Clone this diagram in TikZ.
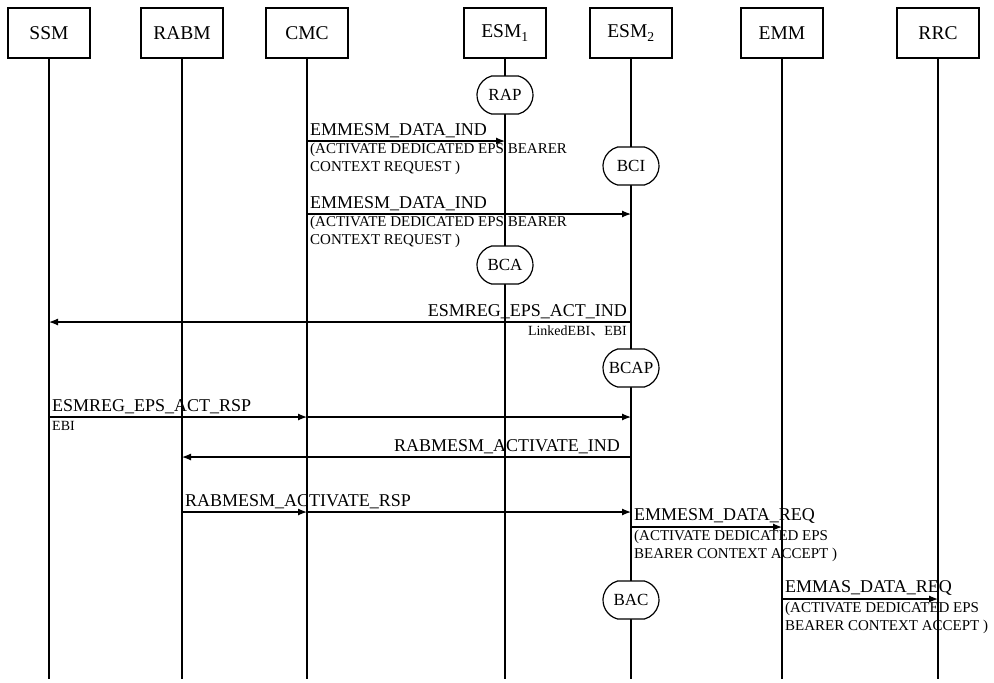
\documentclass[tikz,border=0pt]{standalone}
\usepackage{fontspec}
\setmainfont{Liberation Serif}
\newfontfamily\cjk{Noto Sans CJK SC}
\usetikzlibrary{arrows.meta,positioning,calc,shapes.misc}

\begin{document}
\begin{tikzpicture}[
  x=1pt, y=-1pt,
  ent/.style={draw, line width=1.3pt, minimum width=82pt, minimum height=50pt, font=\fontsize{19.5}{21}\selectfont},
  proc/.style={draw, line width=1.2pt, fill=white, rounded rectangle, rounded rectangle arc length=150, minimum width=60pt, minimum height=38pt, inner sep=2pt, font=\fontsize{17}{18}\selectfont},
  life/.style={line width=1.2pt},
  msg/.style={line width=1.2pt, -{Latex[length=9pt,width=7pt]}},
  lbl/.style={font=\fontsize{18}{19}\selectfont, inner sep=1pt},
  sub/.style={font=\fontsize{15}{18}\selectfont, inner sep=1pt, align=left},
  note/.style={font=\fontsize{14}{15}\selectfont, inner sep=1pt},
  >=Latex
]
\useasboundingbox (0,0) rectangle (994,683);

% entities
\node[ent] (ssm) at (49,33) {SSM};
\node[ent] (rabm) at (182,33) {RABM};
\node[ent] (cmc) at (307,33) {CMC};
\node[ent] (esma) at (505,33) {ESM\textsubscript{1}};
\node[ent] (esmb) at (631,33) {ESM\textsubscript{2}};
\node[ent] (emm) at (782,33) {EMM};
\node[ent] (rrc) at (938,33) {RRC};

% lifelines
\foreach \n in {ssm,rabm,cmc,esma,esmb,emm,rrc}
  \draw[life] (\n.south) -- (\n.south |- 0,679);

% procedures
\node[proc] (rap) at (esma |- 0,95) {RAP};
\node[proc] (bci) at (esmb |- 0,166) {BCI};
\node[proc] (bca) at (esma |- 0,265) {BCA};
\node[proc, minimum width=56pt, inner sep=0pt] (bcap) at (esmb |- 0,368) {BCAP};
\node[proc] (bac) at (esmb |- 0,600) {BAC};

% EMMESM_DATA_IND to ESM1
\draw[msg] (cmc |- 0,141) -- (esma |- 0,141);
\node[lbl, anchor=south west, xshift=2pt] (ind1) at (cmc |- 0,139) {EMMESM\_DATA\_IND};
\node[sub, anchor=north west, xshift=2pt] at (cmc |- 0,142) {(ACTIVATE DEDICATED EPS BEARER\\CONTEXT REQUEST )};

% EMMESM_DATA_IND to ESM2
\draw[msg] (cmc |- 0,214) -- (esmb |- 0,214);
\node[lbl, anchor=south west, xshift=2pt] (ind2) at (cmc |- 0,212) {EMMESM\_DATA\_IND};
\node[sub, anchor=north west, xshift=2pt] at (cmc |- 0,215) {(ACTIVATE DEDICATED EPS BEARER\\CONTEXT REQUEST )};

% ESMREG_EPS_ACT_IND
\draw[msg] (esmb |- 0,322) -- (ssm |- 0,322);
\node[lbl, anchor=south east, xshift=-3pt] (actind) at (esmb |- 0,320) {ESMREG\_EPS\_ACT\_IND};
\node[note, anchor=north east, xshift=-3pt] at (esmb |- 0,325) {LinkedEBI{\cjk 、}EBI};

% ESMREG_EPS_ACT_RSP
\draw[msg] (ssm |- 0,417) -- (cmc |- 0,417);
\draw[msg] (cmc |- 0,417) -- (esmb |- 0,417);
\node[lbl, anchor=south west, xshift=2pt] (actrsp) at (ssm |- 0,415) {ESMREG\_EPS\_ACT\_RSP};
\node[note, anchor=north west, xshift=2pt] at (ssm |- 0,420) {EBI};

% RABMESM_ACTIVATE_IND
\draw[msg] (esmb |- 0,457) -- (rabm |- 0,457);
\node[lbl, anchor=south east, xshift=-10pt] (rabind) at (esmb |- 0,455) {RABMESM\_ACTIVATE\_IND};

% RABMESM_ACTIVATE_RSP
\draw[msg] (rabm |- 0,512) -- (cmc |- 0,512);
\draw[msg] (cmc |- 0,512) -- (esmb |- 0,512);
\node[lbl, anchor=south west, xshift=2pt] (rabrsp) at (rabm |- 0,510) {RABMESM\_ACTIVATE\_RSP};

% EMMESM_DATA_REQ
\draw[msg] (esmb |- 0,527) -- (emm |- 0,527);
\node[lbl, anchor=south west, xshift=2pt] (req1) at (esmb |- 0,525) {EMMESM\_DATA\_REQ};
\node[sub, anchor=north west, xshift=2pt] at (esmb |- 0,529) {(ACTIVATE DEDICATED EPS\\BEARER CONTEXT ACCEPT )};

% EMMAS_DATA_REQ
\draw[msg] (emm |- 0,599) -- (rrc |- 0,599);
\node[lbl, anchor=south west, xshift=2pt] (req2) at (emm |- 0,597) {EMMAS\_DATA\_REQ};
\node[sub, anchor=north west, xshift=2pt] at (emm |- 0,601) {(ACTIVATE DEDICATED EPS\\BEARER CONTEXT ACCEPT )};
\end{tikzpicture}
\end{document}
